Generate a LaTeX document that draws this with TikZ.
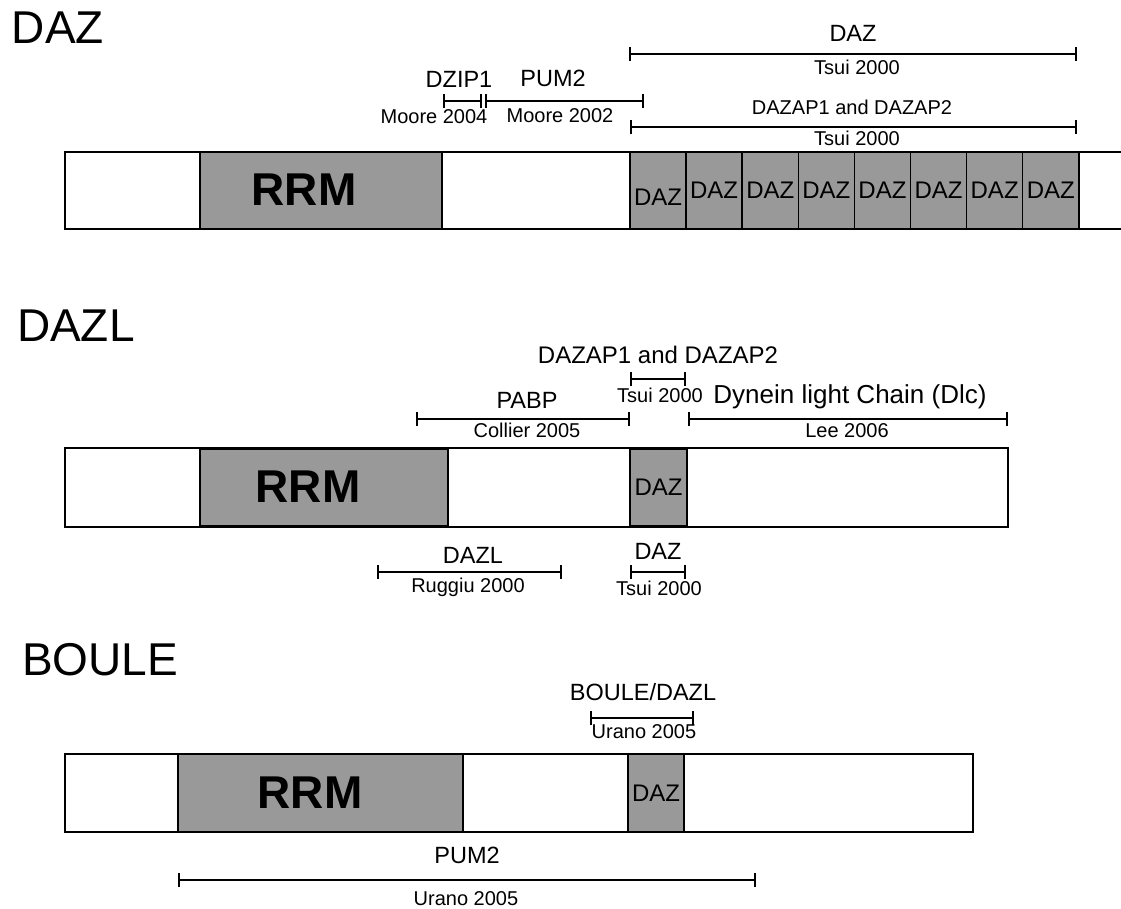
\documentclass[tikz,border=0pt]{standalone}
\usepackage{fontspec}
\setmainfont{Liberation Sans}
\usetikzlibrary{arrows.meta,positioning}
\definecolor{domc}{RGB}{153,153,153}

\begin{document}
\begin{tikzpicture}[x=1pt,y=-1pt,
  every node/.style={inner sep=0pt,outer sep=0pt},
  protein/.style={line width=2.5pt},
  dom/.style={draw,fill=domc,line width=1.5pt,minimum height=77pt},
  rrmtxt/.style={font=\fontsize{46}{46}\selectfont\bfseries},
  rep/.style={dom,minimum width=56.1pt,font=\fontsize{24}{24}\selectfont},
  title/.style={anchor=west,font=\fontsize{46}{46}\selectfont},
  partner/.style={font=\fontsize{23.5}{23.5}\selectfont},
  cite/.style={font=\fontsize{20}{20}\selectfont},
  bind/.style={line width=2pt,{Bar[width=14pt]}-{Bar[width=14pt]}}]
\useasboundingbox (0,0) rectangle (1121,909);
% ---- DAZ: RRM plus eight DAZ repeats ----
\node[title] (tdaz) at (12,28) {DAZ};
\draw[protein] (1121,152) -- (65,152) -- (65,229) -- (1121,229);
\node[dom,minimum width=242pt] (rrm1) at (321,190.5) {};
\node[rrmtxt] (rrm1t) at (304,190) {RRM};
\node[rep,text depth=0pt] (d1) at (658.05,190.5) {\raisebox{-14pt}{DAZ}};
\node[rep,right=0pt of d1] (d2) {DAZ};
\node[rep,right=0pt of d2] (d3) {DAZ};
\node[rep,right=0pt of d3] (d4) {DAZ};
\node[rep,right=0pt of d4] (d5) {DAZ};
\node[rep,right=0pt of d5] (d6) {DAZ};
\node[rep,right=0pt of d6] (d7) {DAZ};
\node[rep,right=0pt of d7] (d8) {DAZ};
\draw[bind] (629,54) -- (1077,54);
\node[partner] (pdaz) at (853,33) {DAZ};
\node[cite] (cdaz) at (857,67) {Tsui 2000};
\draw[bind] (630,127) -- (1077,127);
\node[partner,font=\fontsize{20}{20}\selectfont] (pdazap) at (852,107) {DAZAP1 and DAZAP2};
\node[cite] (cdazap) at (857,138) {Tsui 2000};
\draw[bind] (443,101) -- (482,101);
\node[partner] (pdzip) at (459,79) {DZIP1};
\node[cite] (cdzip) at (434,117) {Moore 2004};
\draw[bind] (485,101) -- (644,101);
\node[partner] (ppum) at (553,78) {PUM2};
\node[cite] (cpum) at (560,116) {Moore 2002};
% ---- DAZL: RRM plus one DAZ repeat ----
\node[title] (tdazl) at (17,326) {DAZL};
\draw[protein] (65,448) rectangle (1008,527);
\node[dom,minimum width=248pt] (rrm2) at (324,487.5) {};
\node[rrmtxt] (rrm2t) at (308,487) {RRM};
\node[rep,minimum width=57pt] (e1) at (658.5,487.5) {DAZ};
\draw[bind] (630,379) -- (686,379);
\node[partner,font=\fontsize{24}{24}\selectfont] (pdazap2) at (658,355) {DAZAP1 and DAZAP2};
\node[cite] (cdazap2) at (660,395) {Tsui 2000};
\draw[bind] (416,419) -- (630,419);
\node[partner] (ppabp) at (527,400) {PABP};
\node[cite] (cpabp) at (527,430) {Collier 2005};
\draw[bind] (688,419) -- (1008,419);
\node[partner,font=\fontsize{26}{26}\selectfont] (pdlc) at (850,397) {Dynein light Chain (Dlc)};
\node[cite] (cdlc) at (847,431) {Lee 2006};
\draw[bind] (377,572) -- (562,572);
\node[partner] (pdazl) at (473,555) {DAZL};
\node[cite] (cdazl) at (468,587) {Ruggiu 2000};
\draw[bind] (630,572) -- (686,572);
\node[partner] (pdaz2) at (658,551) {DAZ};
\node[cite] (cdaz2) at (659,588) {Tsui 2000};
% ---- BOULE: RRM plus one DAZ repeat ----
\node[title] (tboule) at (22,660) {BOULE};
\draw[protein] (65,754) rectangle (973,832);
\node[dom,minimum width=285pt,minimum height=78pt] (rrm3) at (320.5,793) {};
\node[rrmtxt] (rrm3t) at (310,793) {RRM};
\node[rep,minimum width=56pt,minimum height=78pt] (f1) at (656,793) {DAZ};
\draw[bind] (590,718) -- (694,718);
\node[partner] (pboule) at (643,692) {BOULE/DAZL};
\node[cite] (cboule) at (644,732) {Urano 2005};
\draw[bind] (178,880) -- (756,880);
\node[partner] (ppum3) at (467,855) {PUM2};
\node[cite] (cpum3) at (466,899) {Urano 2005};
\end{tikzpicture}
\end{document}
